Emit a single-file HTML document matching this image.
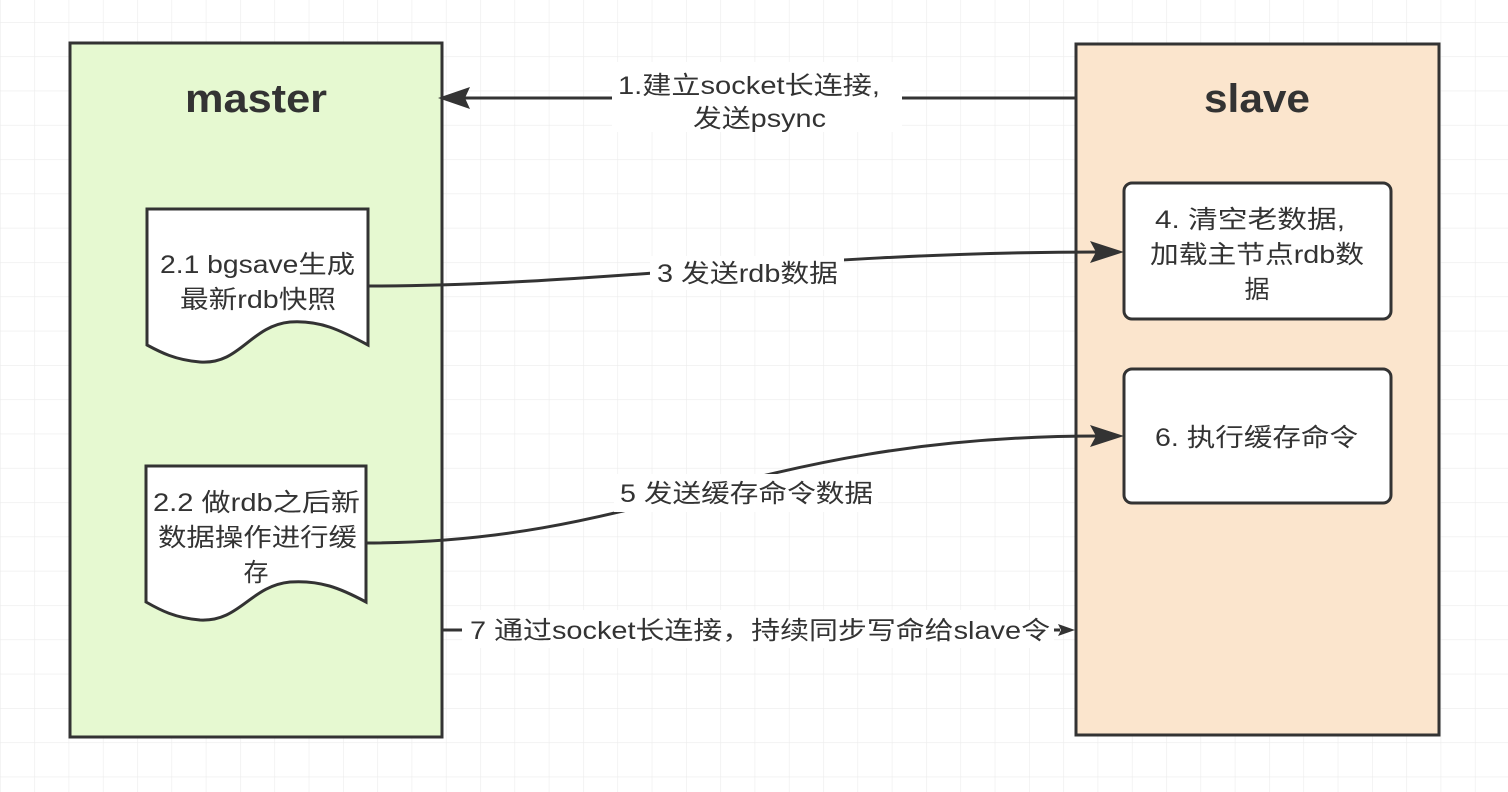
<!DOCTYPE html>
<html><head><meta charset="utf-8"><style>
html,body{margin:0;padding:0;background:#fff;}
svg{display:block;}
text{font-family:"Liberation Sans","Noto Sans CJK SC",sans-serif;fill:#333;}
</style></head><body>
<svg width="1508" height="792" viewBox="0 0 1508 792" xmlns="http://www.w3.org/2000/svg">
<defs>
<pattern id="g" x="0" y="22" width="34.3" height="34.3" patternUnits="userSpaceOnUse">
<path d="M0 0H34.3M0 0V34.3" stroke="#ececec" stroke-width="1.2" fill="none"/>
</pattern>
</defs>
<rect width="1508" height="792" fill="#fff"/>
<rect width="1508" height="792" fill="url(#g)"/>

<rect x="70" y="43" width="372" height="694" fill="#e6f9d1" stroke="#333" stroke-width="3"/>
<rect x="1076" y="44" width="363" height="691" fill="#fbe5cd" stroke="#333" stroke-width="3"/>

<text x="185" y="112" font-size="40" font-weight="bold" textLength="142" lengthAdjust="spacingAndGlyphs">master</text>
<text x="1204" y="112" font-size="40" font-weight="bold" textLength="106" lengthAdjust="spacingAndGlyphs">slave</text>

<path d="M147 209H368V345C340 330 320 320 290 322C250 326 240 365 200 362C175 360 160 352 147 345Z" fill="#fff" stroke="#333" stroke-width="3"/>
<text x="160" y="273" font-size="25" textLength="195" lengthAdjust="spacingAndGlyphs">2.1 bgsave生成</text>
<text x="180" y="308" font-size="25" textLength="156" lengthAdjust="spacingAndGlyphs">最新rdb快照</text>

<path d="M146 466H366V602C340 588 320 580 290 582C250 586 240 622 200 620C175 618 160 610 146 602Z" fill="#fff" stroke="#333" stroke-width="3"/>
<text x="153" y="511" font-size="25" textLength="207" lengthAdjust="spacingAndGlyphs">2.2 做rdb之后新</text>
<text x="158" y="546" font-size="25" textLength="199" lengthAdjust="spacingAndGlyphs">数据操作进行缓</text>
<text x="256" y="581" font-size="25" text-anchor="middle">存</text>

<rect x="1124" y="183" width="267" height="136" rx="8" fill="#fff" stroke="#333" stroke-width="3"/>
<text x="1155" y="228" font-size="25" textLength="190" lengthAdjust="spacingAndGlyphs">4. 清空老数据,</text>
<text x="1150" y="263" font-size="25" textLength="214" lengthAdjust="spacingAndGlyphs">加载主节点rdb数</text>
<text x="1257" y="298" font-size="25" text-anchor="middle">据</text>

<rect x="1124" y="369" width="267" height="134" rx="8" fill="#fff" stroke="#333" stroke-width="3"/>
<text x="1155" y="446" font-size="25" textLength="203" lengthAdjust="spacingAndGlyphs">6. 执行缓存命令</text>

<!-- arrow 1 -->
<line x1="1076" y1="98" x2="460" y2="98" stroke="#333" stroke-width="3"/>
<path d="M438 98L470 87L465 98L470 109Z" fill="#333"/>
<rect x="612" y="62" width="290" height="70" fill="#fff"/>
<text x="618" y="94" font-size="25" textLength="262" lengthAdjust="spacingAndGlyphs">1.建立socket长连接,</text>
<text x="693" y="127" font-size="25" textLength="133" lengthAdjust="spacingAndGlyphs">发送psync</text>

<!-- arrow 3 -->
<path d="M368 286C600 286 800 252 1100 252" stroke="#333" stroke-width="3" fill="none"/>
<path d="M1124 252L1090 241L1096 252L1090 263Z" fill="#333"/>
<rect x="650" y="256" width="194" height="34" fill="#fff"/>
<text x="657" y="282" font-size="25" textLength="181" lengthAdjust="spacingAndGlyphs">3 发送rdb数据</text>

<!-- arrow 5 -->
<path d="M366 543C650 543 750 436 1100 436" stroke="#333" stroke-width="3" fill="none"/>
<path d="M1124 436L1090 425L1096 436L1090 447Z" fill="#333"/>
<rect x="614" y="474" width="264" height="38" fill="#fff"/>
<text x="620" y="502" font-size="25" textLength="253" lengthAdjust="spacingAndGlyphs">5 发送缓存命令数据</text>

<!-- arrow 7 -->
<line x1="443" y1="630" x2="1060" y2="630" stroke="#333" stroke-width="3"/>
<path d="M1075 630L1058 624L1061 630L1058 636Z" fill="#333"/>
<rect x="462" y="610" width="592" height="38" fill="#fff"/>
<text x="470" y="639" font-size="25" textLength="580" lengthAdjust="spacingAndGlyphs">7 通过socket长连接，持续同步写命给slave令</text>
</svg>
</body></html>
